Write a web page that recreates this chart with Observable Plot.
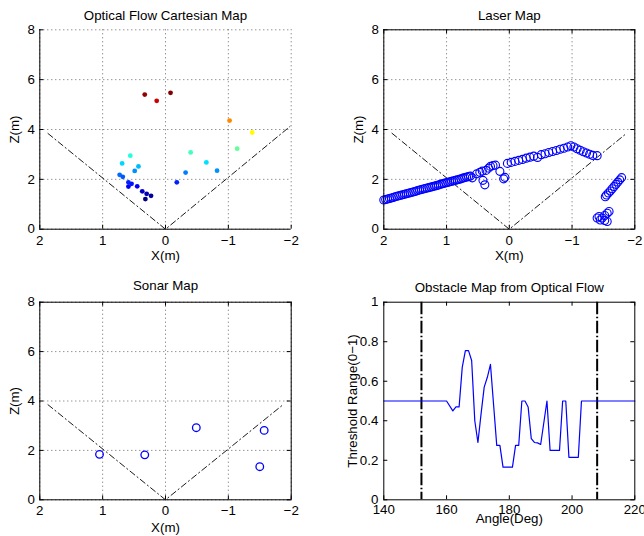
<!DOCTYPE html>
<html><head><meta charset="utf-8">
<script src="https://cdn.jsdelivr.net/npm/d3@7"></script>
<script src="https://cdn.jsdelivr.net/npm/@observablehq/plot@0.6"></script>
<style>
body{margin:0;background:#fff;}
#wrap{position:relative;width:644px;height:536px;overflow:hidden;background:#fff;}
#wrap svg{position:absolute;overflow:visible;}
</style></head><body><div id="wrap"></div>
<script>
// ---------- data ----------
const mapXTicks = [2, 1, 0, -1, -2];
const mapZTicks = [0, 2, 4, 6, 8];
const angleTicks = [140, 160, 180, 200, 220];
const rangeTicks = [0, 0.2, 0.4, 0.6, 0.8, 1];

// optical flow points (x, z)
const flowX = [0.33,-0.08,0.14,-1.02,-1.38,-1.14,-0.40,0.56,-0.65,0.69,0.43,-0.82,0.49,-0.32,0.73,0.68,-0.18,0.59,0.54,0.59,0.45,0.37,0.30,0.23,0.32];
const flowZ = [5.40,5.47,5.15,4.36,3.88,3.23,3.08,2.95,2.68,2.64,2.52,2.35,2.34,2.27,2.18,2.10,1.88,1.88,1.82,1.71,1.72,1.52,1.42,1.34,1.21];

// laser scan points
const laserX = [2.00,1.97,1.94,1.91,1.88,1.85,1.82,1.79,1.76,1.73,1.70,1.67,1.64,1.61,1.58,1.55,1.52,1.49,1.46,1.43,1.40,1.37,1.34,1.31,1.28,1.25,1.22,1.19,1.16,1.13,1.10,1.07,1.04,1.01,0.98,0.95,0.92,0.89,0.86,0.83,0.80,0.77,0.74,0.71,0.68,0.65,0.62,
  0.59,0.52,0.47,0.43,0.42,0.39,0.37,0.33,0.30,0.26,0.22,0.15,0.09,0.07,
  0.03,-0.03,-0.09,-0.15,-0.21,-0.27,-0.33,-0.39,-0.45,-0.51,-0.57,-0.63,-0.69,-0.75,-0.81,-0.87,-0.93,-0.98,
  -1.03,-1.08,-1.13,-1.18,-1.23,-1.28,-1.33,-1.40,
  -1.53,-1.55,-1.58,-1.61,-1.64,-1.67,-1.70,-1.73,-1.76,-1.79,
  -1.43,-1.48,-1.52,-1.56,-1.59,-1.45,-1.52,-1.56,-1.40];
const laserZ = [1.17,1.19,1.21,1.23,1.25,1.27,1.30,1.32,1.34,1.36,1.38,1.40,1.42,1.44,1.46,1.48,1.50,1.52,1.55,1.57,1.59,1.61,1.63,1.65,1.67,1.69,1.71,1.73,1.75,1.77,1.80,1.82,1.84,1.86,1.88,1.90,1.92,1.94,1.96,1.98,2.00,2.02,2.05,2.07,2.09,2.11,2.13,
  2.06,2.22,2.28,2.33,1.96,1.78,2.36,2.45,2.52,2.55,2.57,2.32,2.02,2.08,
  2.64,2.68,2.72,2.76,2.80,2.85,2.89,2.93,2.88,2.99,3.03,3.08,3.12,3.16,3.21,3.25,3.30,3.35,
  3.30,3.23,3.17,3.11,3.06,3.01,2.96,2.95,
  1.30,1.37,1.45,1.53,1.62,1.71,1.80,1.89,1.98,2.07,
  0.51,0.45,0.55,0.64,0.71,0.37,0.35,0.31,0.45];

// sonar points
const sonarX = [1.05, 0.33, -0.49, -1.57, -1.50];
const sonarZ = [1.84, 1.82, 2.92, 2.81, 1.34];

// field of view boundaries (dash-dot)
const fovFlowX = [1.87, 0, -1.98];
const fovFlowZ = [3.84, 0, 4.12];
const fovX = [1.87, 0, -1.87];
const fovZ = [3.85, 0, 3.85];

// obstacle map from optical flow
const angles = [140,160,162,163,164,165,166,167,168,169,170,171,172,173,174,175,176,177,178,181,182,183,184,185,186,187,188,189,190,192,193,196,197,198,199,202,203,220];
const thresh = [0.5,0.5,0.45,0.47,0.47,0.67,0.755,0.755,0.705,0.40,0.29,0.435,0.57,0.62,0.685,0.48,0.275,0.275,0.165,0.165,0.275,0.275,0.5,0.5,0.47,0.31,0.29,0.288,0.28,0.5,0.25,0.25,0.5,0.5,0.215,0.215,0.5,0.5];
const fovAngles = [152, 208];

// ---------- helpers ----------
const FONT = "'Liberation Sans', Arial, Helvetica, sans-serif";
const FS = 13.3;
const fmt = d => d < 0 ? "\u2212" + String(-d) : String(d);
const jetStops = [0, 0.125, 0.375, 0.625, 0.875, 1];
const jetColors = ["#000080", "#0000ff", "#00ffff", "#ffff00", "#ff0000", "#800000"];
function jet(t) {
  t = Math.max(0, Math.min(1, t));
  for (let i = 0; i < jetStops.length - 1; i++) {
    if (t <= jetStops[i + 1]) {
      return d3.interpolateRgb(jetColors[i], jetColors[i + 1])((t - jetStops[i]) / (jetStops[i + 1] - jetStops[i]));
    }
  }
  return jetColors[jetColors.length - 1];
}

const wrap = document.getElementById("wrap");
function place(svg, left, top) {
  svg.style.left = left + "px";
  svg.style.top = top + "px";
  wrap.appendChild(svg);
}

const T = {fontSize: FS, fill: "#000", lineAnchor: "middle"};

function axesMarks({xTicks, yTicks, fw, fh, box, grid, xLabel, yLabel, title, xFmt, yFmt, xdy, xldy, ydx, yldx, tdy}) {
  const m = [];
  if (grid) {
    m.push(Plot.ruleX(xTicks, {x: d => d, stroke: "#000", strokeOpacity: 0.6, strokeDasharray: "1,3"}));
    m.push(Plot.ruleY(yTicks, {y: d => d, stroke: "#000", strokeOpacity: 0.6, strokeDasharray: "1,3"}));
  }
  // inward ticks
  m.push(Plot.ruleX(xTicks, {x: d => d, insetTop: fh - 4, stroke: "#000"}));
  m.push(Plot.ruleY(yTicks, {y: d => d, insetRight: fw - 4, stroke: "#000"}));
  if (box) {
    m.push(Plot.ruleX(xTicks, {x: d => d, insetBottom: fh - 4, stroke: "#000"}));
    m.push(Plot.ruleY(yTicks, {y: d => d, insetLeft: fw - 4, stroke: "#000"}));
  }
  m.push(Plot.text(xTicks, {x: d => d, frameAnchor: "bottom", dy: xdy, text: xFmt, textAnchor: "middle", ...T}));
  m.push(Plot.text(yTicks, {y: d => d, frameAnchor: "left", textAnchor: "end", dx: ydx, text: yFmt, ...T}));
  m.push(Plot.text([xLabel], {frameAnchor: "bottom", dy: xldy, textAnchor: "middle", ...T}));
  m.push(Plot.text([yLabel], {frameAnchor: "left", dx: yldx, rotate: -90, textAnchor: "middle", ...T}));
  m.push(Plot.text([title], {frameAnchor: "top", dy: tdy, textAnchor: "middle", ...T}));
  return m;
}

const style = {fontFamily: FONT, fontSize: FS + "px", background: "transparent", color: "#000", overflow: "visible"};

// ---------- Optical Flow Cartesian Map ----------
{
  const W = 322, H = 268, ml = 39.3, mr = 31.3, mt = 29.3, mb = 39.3;
  const fw = W - ml - mr, fh = H - mt - mb;
  const pts = flowX.map((x, i) => ({x, z: flowZ[i]}));
  const fov = fovFlowX.map((x, i) => ({x, z: fovFlowZ[i]}));
  const svg = Plot.plot({
    width: W, height: H, marginLeft: ml, marginRight: mr, marginTop: mt, marginBottom: mb,
    style,
    x: {domain: [2, -2], axis: null},
    y: {domain: [0, 8], axis: null},
    color: {type: "linear", domain: [d3.min(flowZ), d3.max(flowZ)], interpolate: jet},
    marks: [
      ...axesMarks({xTicks: mapXTicks, yTicks: mapZTicks, fw, fh, box: false, grid: true,
        xLabel: "X(m)", yLabel: "Z(m)", title: "Optical Flow Cartesian Map",
        xFmt: fmt, yFmt: fmt, xdy: 11.5, xldy: 27, ydx: -5, yldx: -25, tdy: -14.5}),
      Plot.ruleX([mapXTicks[0]], {x: d => d, stroke: "#000"}),
      Plot.ruleY([mapZTicks[0]], {y: d => d, stroke: "#000"}),
      Plot.line(fov, {x: "x", y: "z", stroke: "#000", strokeWidth: 0.9, strokeDasharray: "6,3,1.2,3"}),
      Plot.dot(pts, {x: "x", y: "z", r: 2.4, fill: "z", stroke: "none"})
    ]
  });
  place(svg, 0, 0);
}

// ---------- Laser Map ----------
{
  const W = 322, H = 268, ml = 61.3, mr = 9.7, mt = 29.3, mb = 39.3;
  const fw = W - ml - mr, fh = H - mt - mb;
  const pts = laserX.map((x, i) => ({x, z: laserZ[i]}));
  const fov = fovX.map((x, i) => ({x, z: fovZ[i]}));
  const svg = Plot.plot({
    width: W, height: H, marginLeft: ml, marginRight: mr, marginTop: mt, marginBottom: mb,
    style,
    x: {domain: [2, -2], axis: null},
    y: {domain: [0, 8], axis: null},
    marks: [
      ...axesMarks({xTicks: mapXTicks, yTicks: mapZTicks, fw, fh, box: true, grid: true,
        xLabel: "X(m)", yLabel: "Z(m)", title: "Laser Map",
        xFmt: fmt, yFmt: fmt, xdy: 11.5, xldy: 27, ydx: -5, yldx: -25, tdy: -14.5}),
      Plot.line(fov, {x: "x", y: "z", stroke: "#000", strokeWidth: 0.9, strokeDasharray: "6,3,1.2,3"}),
      Plot.dot(pts, {x: "x", y: "z", r: 4, stroke: "#0000ff", strokeWidth: 1.1, fill: "none"}),
      Plot.frame({stroke: "#000"})
    ]
  });
  place(svg, 322, 0);
}

// ---------- Sonar Map ----------
{
  const W = 322, H = 268, ml = 39.3, mr = 31.3, mt = 33.7, mb = 36.7;
  const fw = W - ml - mr, fh = H - mt - mb;
  const pts = sonarX.map((x, i) => ({x, z: sonarZ[i]}));
  const fov = fovX.map((x, i) => ({x, z: fovZ[i]}));
  const svg = Plot.plot({
    width: W, height: H, marginLeft: ml, marginRight: mr, marginTop: mt, marginBottom: mb,
    style,
    x: {domain: [2, -2], axis: null},
    y: {domain: [0, 8], axis: null},
    marks: [
      ...axesMarks({xTicks: mapXTicks, yTicks: mapZTicks, fw, fh, box: true, grid: true,
        xLabel: "X(m)", yLabel: "Z(m)", title: "Sonar Map",
        xFmt: fmt, yFmt: fmt, xdy: 11, xldy: 27.5, ydx: -5, yldx: -25, tdy: -16}),
      Plot.line(fov, {x: "x", y: "z", stroke: "#000", strokeWidth: 0.9, strokeDasharray: "6,3,1.2,3"}),
      Plot.dot(pts, {x: "x", y: "z", r: 3.8, stroke: "#0000ff", strokeWidth: 1.3, fill: "none"}),
      Plot.frame({stroke: "#000"})
    ]
  });
  place(svg, 0, 268);
}

// ---------- Obstacle Map from Optical Flow ----------
{
  const W = 322, H = 268, ml = 61.3, mr = 9.7, mt = 33.7, mb = 36.7;
  const fw = W - ml - mr, fh = H - mt - mb;
  const pts = angles.map((a, i) => ({a, v: thresh[i]}));
  const svg = Plot.plot({
    width: W, height: H, marginLeft: ml, marginRight: mr, marginTop: mt, marginBottom: mb,
    style,
    x: {domain: [140, 220], axis: null},
    y: {domain: [0, 1], axis: null},
    marks: [
      ...axesMarks({xTicks: angleTicks, yTicks: rangeTicks, fw, fh, box: true, grid: false,
        xLabel: "Angle(Deg)", yLabel: "Threshold Range(0\u22121)", title: "Obstacle Map from Optical Flow",
        xFmt: d => String(d), yFmt: d => String(d), xdy: 9.5, xldy: 18.5, ydx: -5.5, yldx: -31, tdy: -14}),
      Plot.ruleX(fovAngles, {x: d => d, stroke: "#000", strokeWidth: 2, strokeDasharray: "12.5,2.5,1.5,2.5"}),
      Plot.line(pts, {x: "a", y: "v", stroke: "#0000ff", strokeWidth: 1.2}),
      Plot.frame({stroke: "#000"})
    ]
  });
  place(svg, 322, 268);
}
</script>
</body></html>
